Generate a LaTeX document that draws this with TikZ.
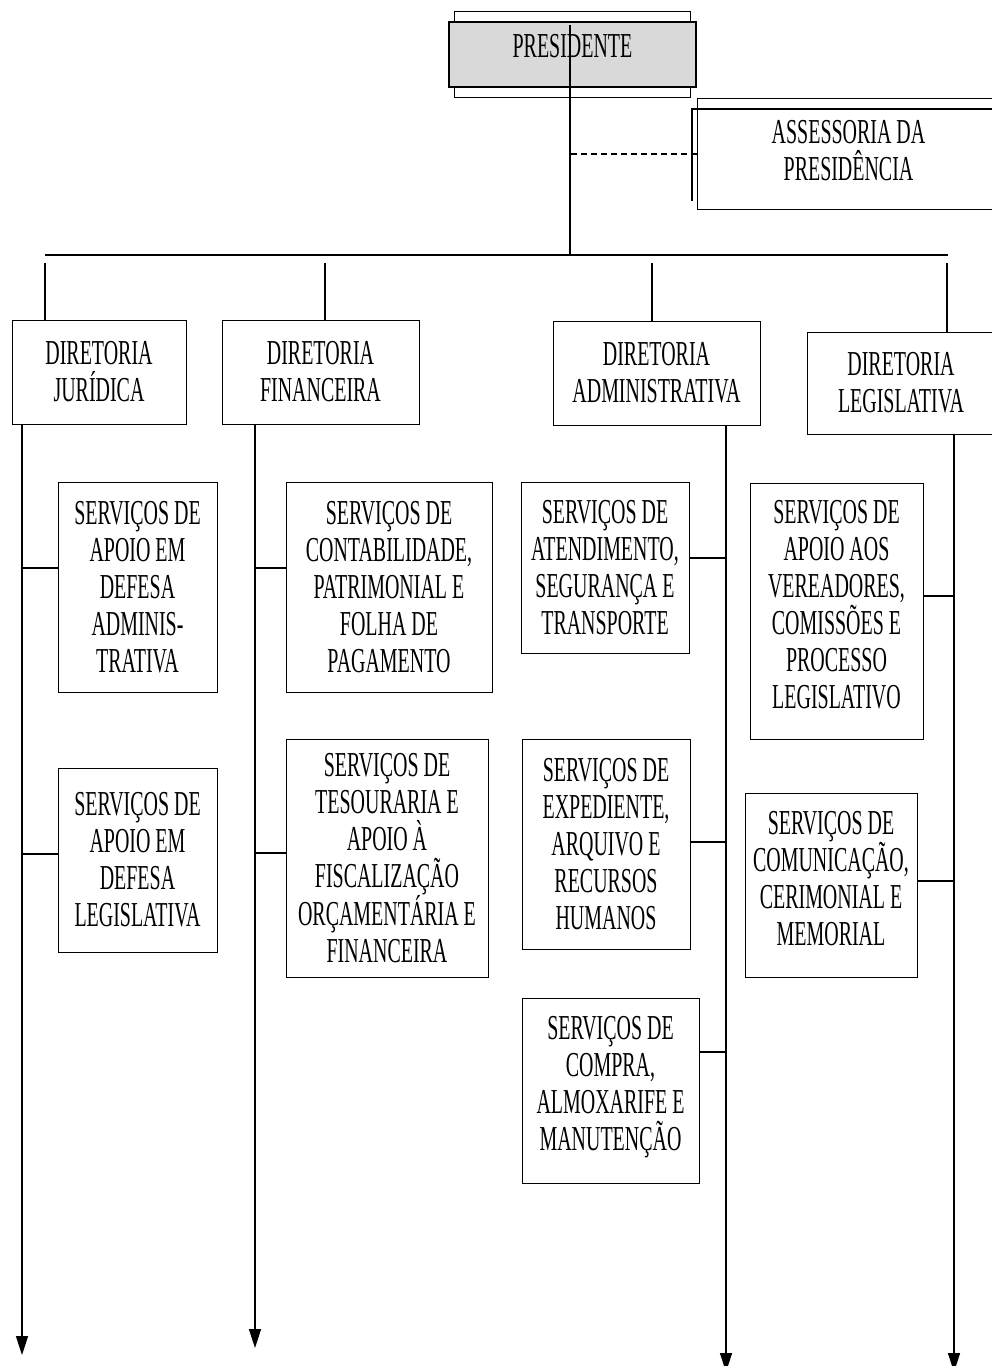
\documentclass[tikz,border=0pt]{standalone}
\usepackage{fontspec}
\setmainfont{Liberation Serif}[FakeStretch=0.57]
\usetikzlibrary{arrows.meta,calc}
\tikzset
{
    unitbox/.style = {draw=black, line width=1pt, align=center, inner sep=0pt},
    conn/.style    = {line width=2pt},
    drop/.style    = {line width=1.2pt},
    trunk/.style   = {line width=1.5pt, -{Triangle[length=19pt,width=12pt]}}
}
\begin{document}
\begin{tikzpicture}[x=1pt, y=-1pt, font=\fontsize{35pt}{37pt}\selectfont]
    \useasboundingbox (0,0) rectangle (992,1366);

    % presidencia
    \node [unitbox, minimum width=236pt, minimum height=86pt] (presBack) at (572,54) {};
    \node [unitbox, fill=gray!30, line width=2pt, minimum width=247pt, minimum height=65pt,
           text height=23pt, text depth=18pt] (pres) at (572.5,54.5) {PRESIDENTE};
    \node [unitbox, minimum width=303pt, minimum height=111pt, text depth=6pt] (asse) at (848.5,153.5) {ASSESSORIA DA\\PRESIDÊNCIA};
    \draw [line width=2pt] ($(asse.south west)+(-5,-9)$) -- ($(asse.north west)+(-5,11)$) -- ($(asse.north east)+(0,11)$);

    % diretorias
    \node [unitbox, minimum width=174pt, minimum height=104pt] (jur) at (99,372) {DIRETORIA\\JURÍDICA};
    \node [unitbox, minimum width=197pt, minimum height=104pt] (fin) at (320.5,372) {DIRETORIA\\FINANCEIRA};
    \node [unitbox, minimum width=207pt, minimum height=104pt] (adm) at (656.5,373) {DIRETORIA\\ADMINISTRATIVA};
    \node [unitbox, minimum width=188pt, minimum height=102pt] (leg) at (901,383) {DIRETORIA\\LEGISLATIVA};

    % servicos
    \node [unitbox, minimum width=159pt, minimum height=210pt] (sj1) at (137.5,587) {SERVIÇOS DE\\APOIO EM\\DEFESA\\ADMINIS-\\TRATIVA};
    \node [unitbox, minimum width=159pt, minimum height=184pt] (sj2) at (137.5,860) {SERVIÇOS DE\\APOIO EM\\DEFESA\\LEGISLATIVA};
    \node [unitbox, minimum width=206pt, minimum height=210pt] (sf1) at (389,587) {SERVIÇOS DE\\CONTABILIDADE,\\PATRIMONIAL E\\FOLHA DE\\PAGAMENTO};
    \node [unitbox, minimum width=202pt, minimum height=238pt] (sf2) at (387,858) {SERVIÇOS DE\\TESOURARIA E\\APOIO À\\FISCALIZAÇÃO\\ORÇAMENTÁRIA E\\FINANCEIRA};
    \node [unitbox, minimum width=168pt, minimum height=171pt] (sa1) at (605,567.5) {SERVIÇOS DE\\ATENDIMENTO,\\SEGURANÇA E\\TRANSPORTE};
    \node [unitbox, minimum width=168pt, minimum height=210pt] (sa2) at (606,844) {SERVIÇOS DE\\EXPEDIENTE,\\ARQUIVO E\\RECURSOS\\HUMANOS};
    \node [unitbox, minimum width=177pt, minimum height=185pt, text depth=15pt] (sa3) at (610.5,1090.5) {SERVIÇOS DE\\COMPRA,\\ALMOXARIFE E\\MANUTENÇÃO};
    \node [unitbox, minimum width=173pt, minimum height=256pt, text depth=14pt] (sl1) at (836.5,611) {SERVIÇOS DE\\APOIO AOS\\VEREADORES,\\COMISSÕES E\\PROCESSO\\LEGISLATIVO};
    \node [unitbox, minimum width=172pt, minimum height=184pt, text depth=14pt] (sl2) at (831,885) {SERVIÇOS DE\\COMUNICAÇÃO,\\CERIMONIAL E\\MEMORIAL};

    % barramento
    \coordinate (top) at (570,25);
    \coordinate (busL) at (45,255);
    \coordinate (busR) at (948,255);
    \draw [drop] (top) -- (top |- busL);
    \draw [conn] (busL) -- (busR);
    \draw [line width=2pt, dash pattern=on 6pt off 4pt] (asse.west) -- (asse.west -| top);
    \foreach \n/\x in {jur/45, fin/325, adm/652, leg/947}
    {
        \coordinate (d\n) at (\x,263);
        \draw [drop] (d\n) -- (d\n |- \n.north);
    }

    % linhas verticais
    \coordinate (tj) at (22,1355);
    \coordinate (tf) at (255,1348);
    \coordinate (ta) at (726,1372);
    \coordinate (tl) at (954,1372);
    \foreach \n/\t in {jur/tj, fin/tf, adm/ta, leg/tl}
        \draw [trunk] (\n.south -| \t) -- (\t);

    \foreach \b/\a/\dy/\t in {sj1/west/-19/tj, sj2/west/-6/tj, sf1/west/-19/tf, sf2/west/-5/tf,
                              sa1/east/-9.5/ta, sa2/east/-2/ta, sa3/east/-38.5/ta,
                              sl1/east/-15/tl, sl2/east/-4/tl}
        \draw [conn] (\b.\a) ++(0,\dy) coordinate (c) -- (c -| \t);
\end{tikzpicture}
\end{document}
